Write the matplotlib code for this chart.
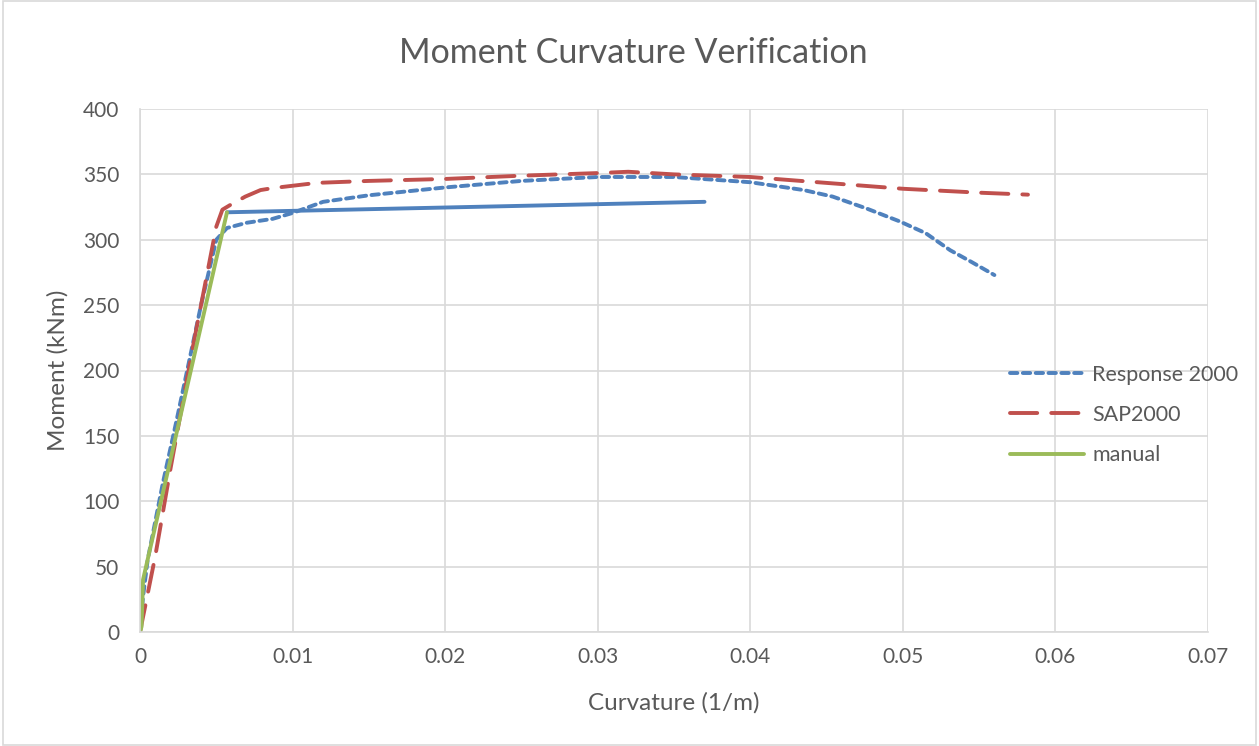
import matplotlib.pyplot as plt
import numpy as np

# Response 2000 (dotted blue)
resp_x = [0, 0.0002, 0.0005, 0.0015, 0.0024, 0.004, 0.005, 0.0057, 0.007, 0.0087, 0.01,
          0.012, 0.015, 0.02, 0.025, 0.03, 0.035, 0.04, 0.0435, 0.0454, 0.0476, 0.0498,
          0.0515, 0.0531, 0.0545, 0.056]
resp_y = [0, 27, 55, 114, 162, 250, 300, 309, 313, 316, 320.5,
          329, 334, 340, 345, 348, 348, 344, 338, 333, 324, 314,
          305, 292, 283, 273]

# SAP2000 (dashed red)
sap_x = [0, 0.001, 0.002, 0.0035, 0.005, 0.0054, 0.0059, 0.0069, 0.0079, 0.0087, 0.0116,
         0.015, 0.02, 0.025, 0.03, 0.032, 0.035, 0.04, 0.0433, 0.05, 0.055, 0.0582]
sap_y = [0, 58, 125, 220, 310, 323, 326.5, 333, 338, 339.5, 343.5,
         345, 346.5, 349, 351, 352, 350, 348, 345, 339, 336, 334.5]

# manual (green, elastic part)
man_x = [0, 0.0001, 0.0002, 0.0057]
man_y = [0, 4, 40, 321]

# manual post-yield branch (solid blue, not in legend)
post_x = [0.0057, 0.037]
post_y = [321, 329]

blue = '#4F81BD'
red = '#C0504D'
green = '#9BBB59'
txt = '#595959'
grid = '#D9D9D9'

plt.rcParams['font.family'] = ['Lato', 'DejaVu Sans']

fig = plt.figure(figsize=(12.59, 7.46), dpi=100)
ax = fig.add_axes([140 / 1259, 1 - 632 / 746, 1068 / 1259, 523 / 746])

ax.plot(post_x, post_y, color=blue, lw=2.8, solid_capstyle='round')
ax.plot(resp_x, resp_y, color=blue, lw=2.8, linestyle=(0, (1.9, 1.4)),
        dash_capstyle='round', label='Response 2000')
ax.plot(sap_x, sap_y, color=red, lw=2.8, linestyle=(0, (7.0, 3.6)),
        dash_capstyle='round', label='SAP2000')
ax.plot(man_x, man_y, color=green, lw=2.8, solid_capstyle='round', label='manual')

ax.set_xlim(0, 0.07)
ax.set_ylim(0, 400)
ax.set_xticks(np.arange(0, 0.0701, 0.01))
ax.set_xticklabels(['0', '0.01', '0.02', '0.03', '0.04', '0.05', '0.06', '0.07'])
ax.set_yticks(np.arange(0, 401, 50))
ax.grid(True, color=grid, lw=1.2)
ax.set_axisbelow(True)
for s in ['top', 'right']:
    ax.spines[s].set_visible(False)
ax.spines['left'].set_color(grid)
ax.spines['bottom'].set_color(grid)
ax.spines['left'].set_linewidth(1.2)
ax.spines['bottom'].set_linewidth(1.2)
ax.tick_params(axis='y', length=0, labelsize=15, colors=txt, pad=15)
ax.tick_params(axis='x', length=0, labelsize=15, colors=txt, pad=11)

ax.set_xlabel('Curvature (1/m)', fontsize=17.5, color=txt, labelpad=18)
ax.set_ylabel('Moment (kNm)', fontsize=17.5, color=txt, labelpad=10)
fig.text(633 / 1259, 1 - 53 / 746, 'Moment Curvature Verification', fontsize=24.5,
         color=txt, ha='center', va='center')

leg = fig.legend(loc='center left', bbox_to_anchor=(991 / 1259, 1 - 415 / 746),
                 frameon=False, fontsize=15.5, handlelength=3.4, labelspacing=0.95,
                 handletextpad=0.4)
for t in leg.get_texts():
    t.set_color(txt)

fig.patches.append(plt.Rectangle((0.002, 0.002), 0.996, 0.996, transform=fig.transFigure,
                                 fill=False, edgecolor=grid, lw=1.2))

fig.savefig('out.png', dpi=100)
